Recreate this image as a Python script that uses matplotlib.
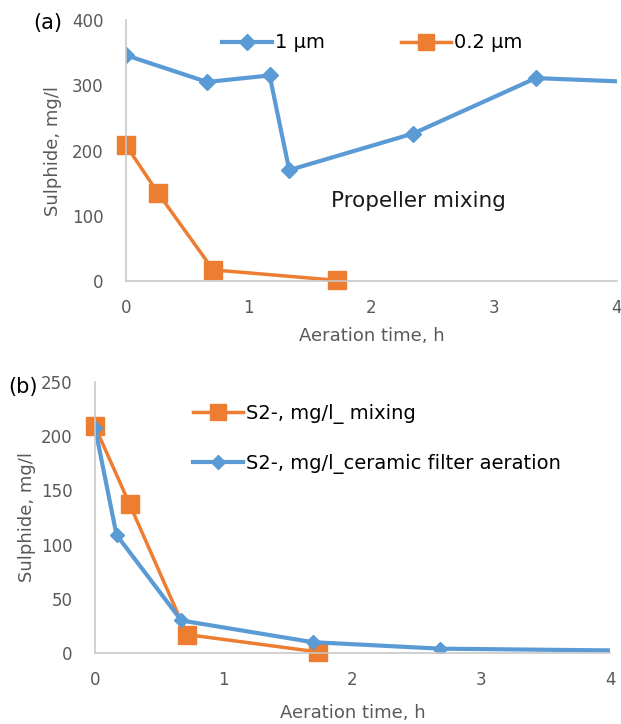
import matplotlib
matplotlib.use('Agg')
import matplotlib.pyplot as plt
from matplotlib.lines import Line2D

plt.rcParams['font.family'] = ['DejaVu Sans']

BLUE = '#5B9BD5'
ORANGE = '#ED7D31'
GREY = '#595959'
AXC = '#C8C8C8'

# panel (a): propeller mixing, two filter sizes
a_t_1um = [0.0, 0.66, 1.17, 1.33, 2.34, 3.34, 4.4]
a_s_1um = [346, 305, 315, 170, 226, 311, 303]
a_t_02um = [0.0, 0.26, 0.71, 1.72]
a_s_02um = [208, 135, 17, 1]

# panel (b): mixing vs ceramic filter aeration
b_t_mix = [0.0, 0.27, 0.715, 1.73]
b_s_mix = [209, 137, 17, 1]
b_t_cer = [0.0, 0.167, 0.67, 1.69, 2.68, 4.3]
b_s_cer = [208, 109, 30, 10, 4, 2]


def style(ax, ymax, ystep, xpad):
    for s in ['top', 'right']:
        ax.spines[s].set_visible(False)
    for s in ['left', 'bottom']:
        ax.spines[s].set_color(AXC)
        ax.spines[s].set_linewidth(1.2)
    ax.set_xlim(0, 4)
    ax.set_ylim(0, ymax)
    ax.set_xticks(range(0, 5))
    ax.set_yticks(range(0, ymax + 1, ystep))
    ax.tick_params(length=0, labelsize=12, labelcolor=GREY)
    ax.tick_params(axis='y', pad=16)
    ax.tick_params(axis='x', pad=13)
    ax.set_xlabel('Aeration time, h', fontsize=13, color=GREY, labelpad=xpad)
    ax.set_ylabel('Sulphide, mg/l', fontsize=13, color=GREY)


def handle(color, marker, ms, lw):
    return Line2D([], [], color=color, marker=marker, ms=ms, lw=lw)


fig = plt.figure(figsize=(6.21, 7.24), dpi=100)

ax1 = fig.add_axes([126/621, 1-281/724, (617-126)/621, (281-20)/724])
ax1.plot(a_t_1um, a_s_1um, color=BLUE, lw=3, marker='D', ms=8, clip_on=True)
ax1.plot(a_t_02um, a_s_02um, color=ORANGE, lw=2.5, marker='s', ms=13,
         clip_on=False)
style(ax1, 400, 100, 7)
ax1.yaxis.set_label_coords(-0.13, 0.5)
ax1.legend(handles=[handle(BLUE, 'D', 8, 3), handle(ORANGE, 's', 12, 2.5)],
           labels=['1 µm', '0.2 µm'], ncol=2, frameon=False, fontsize=14,
           loc='center left', bbox_to_anchor=(0.195, 0.912),
           handlelength=2.6, handletextpad=0.15, columnspacing=3.9,
           borderaxespad=0, borderpad=0)
ax1.text(1.67, 123, 'Propeller mixing', fontsize=15.5, color='#1a1a1a',
         va='center', ha='left')
fig.text(33/621, 1-23/724, '(a)', fontsize=15, va='center', ha='left')

ax2 = fig.add_axes([95/621, 1-653/724, (610-95)/621, (653-382)/724])
ax2.plot(b_t_mix, b_s_mix, color=ORANGE, lw=2.5, marker='s', ms=13,
         clip_on=False)
ax2.plot(b_t_cer, b_s_cer, color=BLUE, lw=3, marker='D', ms=7, clip_on=True)
style(ax2, 250, 50, 11)
ax2.yaxis.set_label_coords(-0.115, 0.5)
ax2.legend(handles=[handle(ORANGE, 's', 12, 2.5), handle(BLUE, 'D', 7, 3)],
           labels=['S2-, mg/l_ mixing', 'S2-, mg/l_ceramic filter aeration'],
           frameon=False, fontsize=14,
           loc='upper left', bbox_to_anchor=(0.19, 0.92),
           handlelength=2.6, handletextpad=0.15, labelspacing=1.55,
           borderaxespad=0, borderpad=0)
fig.text(8/621, 1-387/724, '(b)', fontsize=15, va='center', ha='left')

fig.savefig('out.png', dpi=100)
